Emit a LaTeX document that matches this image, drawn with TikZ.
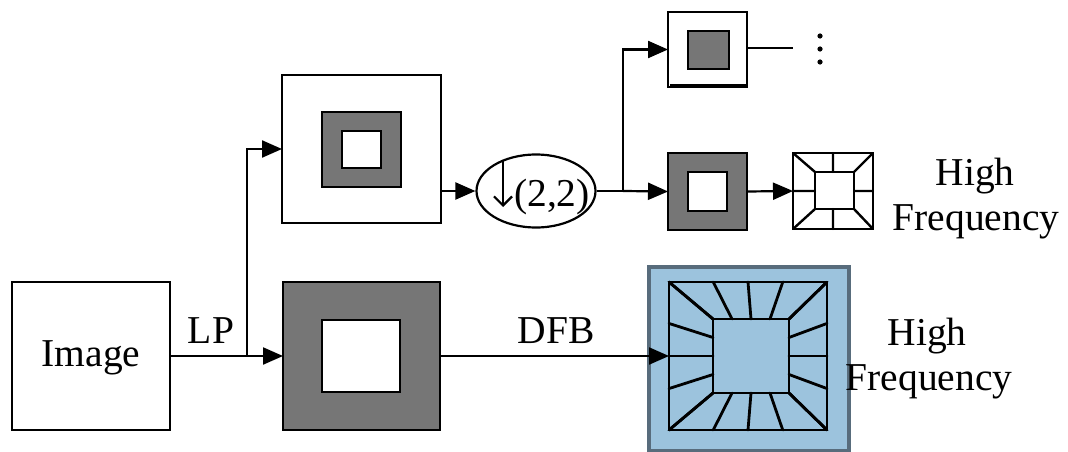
\documentclass[tikz,border=0pt]{standalone}
\usepackage{fontspec}
\setmainfont{Liberation Serif}
\usetikzlibrary{arrows.meta,shapes.geometric}
\definecolor{dgray}{RGB}{118,118,118}
\definecolor{bfill}{RGB}{156,195,221}
\definecolor{bborder}{RGB}{88,108,124}
\tikzset{
  box/.style={draw=black,line width=2.2pt,fill=white,minimum width=#1,inner sep=0pt,outer sep=0pt},
  lbl/.style={font=\fontsize{39.5}{46}\selectfont,inner sep=0pt},
  conn/.style={line width=2.2pt,-{Triangle[length=20pt,width=17pt]}},
  plain/.style={line width=2.2pt},
  grid/.style={line width=2.8pt,line cap=round}
}
\begin{document}
\begin{tikzpicture}[x=1pt,y=-1pt]
\useasboundingbox (0,0) rectangle (1068,452);
% Image
\node[box=158pt,minimum height=148pt] (img) at (91,356) {};
\node[lbl] (imgt) at (91,358) {Image};
% big gray box
\node[box=157pt,minimum height=148pt,fill=dgray] (big) at (361.5,356) {};
\node[box=78pt,minimum height=72pt] (bigin) at (361,356) {};
% top white box
\node[box=159pt,minimum height=148pt] (top) at (361.5,149) {};
\node[box=79pt,minimum height=75pt,fill=dgray] (topg) at (361.5,149.5) {};
\node[box=39pt,minimum height=37pt] (topw) at (361.5,149.5) {};
% ellipse downsampler
\node[draw,ellipse,line width=2.2pt,minimum width=119pt,minimum height=73pt,inner sep=0pt] (ds) at (536,191) {};
\node[lbl,anchor=base] (dst) at (552,206) {(2,2)};
\draw[line width=2.2pt,-{Straight Barb[length=9pt,width=18pt]}] (503,160) -- (503,207);
% split
\coordinate (sp) at (623,191);
\coordinate (br) at (247,356);
% top-right box
\node[box=79pt,minimum height=75pt] (tr) at (707.5,49.5) {};
\node[box=41pt,minimum height=38pt,fill=dgray] (trg) at (708.5,50) {};
\draw[line width=3.5pt] (670,86) -- (746,86);
\coordinate (trend) at (793,48);
\fill (820,36) circle (2.6pt) (820,49) circle (2.6pt) (820,62) circle (2.6pt);
% mid-right gray box
\node[box=79pt,minimum height=77pt,fill=dgray] (mr) at (707.5,191.5) {};
\node[box=39pt,minimum height=39pt] (mrw) at (707.5,191.5) {};
% small directional box
\node[box=80pt,minimum height=76pt] (dir) at (833,191) {};
\draw[grid,line width=2.4pt] (815,172) rectangle (854,209);
\draw[grid,line width=2.4pt] (793,153) -- (815,172) (873,153) -- (854,172) (793,229) -- (815,209) (873,229) -- (854,209)
  (833,153) -- (833,172) (833,209) -- (833,229) (793,191) -- (815,191) (854,191) -- (873,191);
% blue DFB box
\node[draw=bborder,line width=3.5pt,fill=bfill,minimum width=200pt,minimum height=184pt,inner sep=0pt] (blue) at (749,359) {};
\coordinate (bin) at (669,356);
\begin{scope}[grid]
  \draw (669,282) rectangle (827,430);
  \draw (713,319) rectangle (789,393);
  \foreach \o/\i in {0/0,0.28/0.25,0.5/0.5,0.72/0.75,1/1}{
    \draw ({669+158*\o},282) -- ({713+76*\i},319);
    \draw ({669+158*\o},430) -- ({713+76*\i},393);
    \draw (669,{282+148*\o}) -- (713,{319+74*\i});
    \draw (827,{282+148*\o}) -- (789,{319+74*\i});
  }
\end{scope}
% connectors
\draw[conn] (img.east) -- (big.west);
\draw[conn] (br) |- (top.west);
\draw[conn] (top.east |- ds.west) -- (ds.west);
\draw[plain] (ds.east) -- (sp);
\draw[conn] (sp) |- (tr.west);
\draw[conn] (sp) -- (mr.west);
\draw[plain] (tr.east |- trend) -- (trend);
\draw[conn] (mr.east) -- (dir.west);
\draw[conn] (big.east) -- (bin);
% labels
\node[lbl] (lp) at (211,331) {LP};
\node[lbl,anchor=base] (dfb) at (556,343) {DFB};
\node[lbl,anchor=base] (h1) at (975,185) {High};
\node[lbl,anchor=base] (f1) at (976,230) {Frequency};
\node[lbl,anchor=base] (h2) at (927,345) {High};
\node[lbl,anchor=base] (f2) at (929,390) {Frequency};
\end{tikzpicture}
\end{document}
